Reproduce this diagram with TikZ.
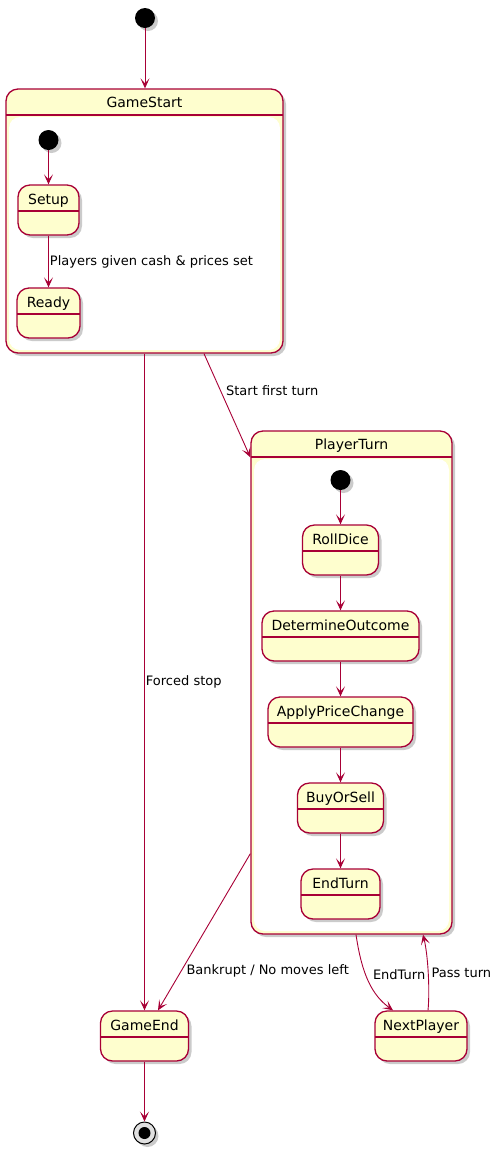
\documentclass[tikz,border=0pt]{standalone}
\usepackage{fontspec}
\setmainfont{DejaVu Sans}
\usepackage{tikz}
\usetikzlibrary{arrows.meta, shadows}
\definecolor{umlred}{HTML}{A80036}
\definecolor{umlfill}{HTML}{FEFECE}

\begin{document}
\begin{tikzpicture}[
  x=1pt, y=-1pt,
  shd/.style={drop shadow={shadow xshift=3pt, shadow yshift=-3pt, fill=black!45, opacity=0.45}},
  stbox/.style={rectangle, rounded corners=12pt, draw=umlred, fill=umlfill, line width=1.3pt,
    font=\fontsize{14}{16}\selectfont, inner xsep=4pt, inner ysep=4pt, text height=15pt,
    text depth=27pt, minimum height=50pt, shd,
    path picture={\draw[umlred, line width=1.3pt]
      ([yshift=-26pt]path picture bounding box.north west) --
      ([yshift=-26pt]path picture bounding box.north east);}},
  compo/.style={rectangle, rounded corners=12pt, draw=umlred, fill=umlfill, line width=1.3pt,
    font=\fontsize{14}{16}\selectfont, inner ysep=4pt, text height=14pt, shd,
    path picture={
      \fill[white, rounded corners=11pt]
        ([xshift=3pt, yshift=-28pt]path picture bounding box.north west) rectangle
        ([xshift=-3pt, yshift=3pt]path picture bounding box.south east);
      \draw[umlred, line width=1.3pt]
        ([yshift=-26pt]path picture bounding box.north west) --
        ([yshift=-26pt]path picture bounding box.north east);}},
  init/.style={circle, fill=black, minimum size=20pt, inner sep=0pt, shd},
  fin/.style={circle, draw=black, line width=1pt, fill=black!12, minimum size=22pt, inner sep=0pt, shd,
    path picture={\fill[black] (path picture bounding box.center) circle (6pt);}},
  lbl/.style={font=\fontsize{13}{15}\selectfont, inner sep=1pt, text=black},
  tr/.style={-{Stealth[length=10pt, width=9pt, inset=5pt]}, umlred, line width=0.9pt}
]
\useasboundingbox (0,0) rectangle (501,1152);

% outer states
\node[init] (top0) at (145,18) {};
\node[compo, minimum width=277pt, text depth=242pt] (gamestart) at (144.5,221) {GameStart};
\node[compo, minimum width=201pt, text depth=481pt] (playerturn) at (351.5,682.5) {PlayerTurn};
\node[stbox, minimum width=88pt] (gameend) at (144.5,1036) {GameEnd};
\node[stbox, minimum width=92pt] (nextplayer) at (421,1036) {NextPlayer};
\node[fin] (stop) at (144.5,1133) {};

% inside GameStart
\node[init] (gsinit) at (48.5,140) {};
\node[stbox, minimum width=61pt] (setup) at (48.5,210) {Setup};
\node[stbox, minimum width=63pt] (ready) at (48.5,313) {Ready};

% inside PlayerTurn
\node[init] (ptinit) at (340.5,480) {};
\node[stbox, minimum width=76pt] (rolldice) at (340.5,550) {RollDice};
\node[stbox, minimum width=157pt] (determine) at (340.5,636) {DetermineOutcome};
\node[stbox, minimum width=145pt] (applyprice) at (340.5,722) {ApplyPriceChange};
\node[stbox, minimum width=86pt] (buyorsell) at (340.5,808) {BuyOrSell};
\node[stbox, minimum width=79pt] (endturn) at (340.5,894) {EndTurn};

\draw[tr] (top0) -- (top0 |- gamestart.north);
\draw[tr] (gsinit) -- (setup);
\draw[tr] (setup) -- (ready) node[lbl, midway, right] {Players given cash \& prices set};
\draw[tr] (gamestart.south) -- (gameend.north) node[lbl, midway, right] {Forced stop};
\draw[tr] ([xshift=59.5pt]gamestart.south) -- ([yshift=-27pt]playerturn.north west)
  node[lbl, pos=0.36, right=4pt] {Start first turn};

\draw[tr] (ptinit) -- (rolldice);
\draw[tr] (rolldice) -- (determine);
\draw[tr] (determine) -- (applyprice);
\draw[tr] (applyprice) -- (buyorsell);
\draw[tr] (buyorsell) -- (endturn);

\draw[tr] ([yshift=81pt]playerturn.south west) -- ([xshift=13.5pt]gameend.north)
  node[lbl, pos=0.75, right=4pt] {Bankrupt / No moves left};
\draw[tr] ([xshift=4.5pt]playerturn.south) .. controls (362,975) and (372,995) .. ([xshift=-28pt]nextplayer.north)
  node[lbl, pos=0.4, right=6pt] {EndTurn};
\draw[tr] ([xshift=7pt]nextplayer.north) .. controls (430,990) and (428,955) .. ([xshift=71.5pt]playerturn.south)
  node[lbl, pos=0.5, right=2pt] {Pass turn};
\draw[tr] (gameend) -- (stop);
\end{tikzpicture}
\end{document}
